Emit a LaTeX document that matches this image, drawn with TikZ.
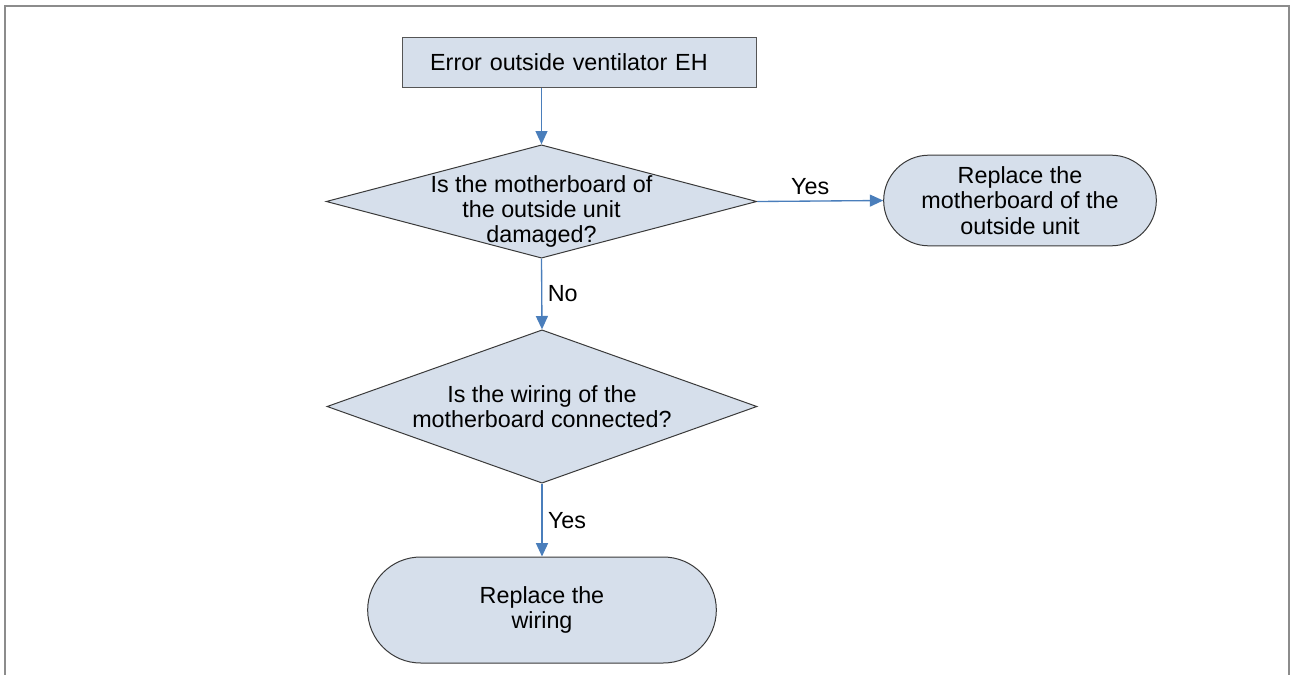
\documentclass[tikz,border=0pt]{standalone}
\usepackage{fontspec}
\setmainfont{Liberation Sans}
\usetikzlibrary{shapes.geometric, shapes.misc, arrows.meta, positioning}
\definecolor{boxFill}{HTML}{D6DFEB}
\definecolor{boxStroke}{HTML}{3A3A3A}
\definecolor{rectStroke}{HTML}{555555}
\definecolor{arrStroke}{HTML}{4A7EBB}
\definecolor{frameStroke}{HTML}{8C8C8C}
\tikzset{
  flow/.style = {
    font=\fontsize{17.5}{19}\selectfont,
    >={Triangle[length=10pt,width=9pt]},
  },
  start/.style = {
    rectangle, draw=rectStroke, line width=0.75pt, fill=boxFill,
    minimum width=266pt, minimum height=38pt, text width=224pt,
    align=left, inner xsep=21pt, inner ysep=2pt,
  },
  dec/.style = {
    diamond, draw=boxStroke, line width=0.75pt, fill=boxFill,
    align=center, inner sep=-6pt,
  },
  term/.style = {
    rounded rectangle, draw=boxStroke, line width=0.75pt, fill=boxFill,
    align=center, inner sep=2pt,
  },
  arr/.style = {->, line width=1pt, draw=arrStroke, fill=arrStroke},
  lbl/.style = {inner sep=4pt},
  frame/.style = {draw=frameStroke, line width=1.5pt},
}

\begin{document}
\begin{tikzpicture}[flow, x=0.75pt, y=0.75pt]

\useasboundingbox (0,0) rectangle (1290,-675);
\draw[frame] (4.5,-675) |- (1289,-6) -- (1289,-675);

\node[start] (err) at (579.5,-62.5) {Error outside ventilator EH};
\node[dec, aspect=3.8, minimum width=323pt, minimum height=85pt,
  inner sep=-9pt, text height=62pt, text depth=-7pt]
  (board) at (541.5,-201.5) {Is the motherboard of\\the outside unit\\damaged?};
\node[term, minimum width=208.5pt, minimum height=68pt]
  (newb) at (1020,-200.5) {Replace the\\motherboard of the\\outside unit};
\node[dec, aspect=2.8, minimum width=322.5pt, minimum height=115pt]
  (wire) at (542,-406.5) {Is the wiring of the\\motherboard connected?};
\node[term, minimum width=265.5pt, minimum height=79.5pt]
  (neww) at (542,-610) {Replace the\\wiring};

\draw[arr] (err.south -| board.north) -- (board.north);
\draw[arr] (board.east) -- node[lbl, above, pos=0.42] {Yes} (newb.west);
\draw[arr] (board.south) -- node[lbl, right] {No} (wire.north);
\draw[arr] (wire.south) -- node[lbl, right] {Yes} (neww.north);

\end{tikzpicture}
\end{document}
